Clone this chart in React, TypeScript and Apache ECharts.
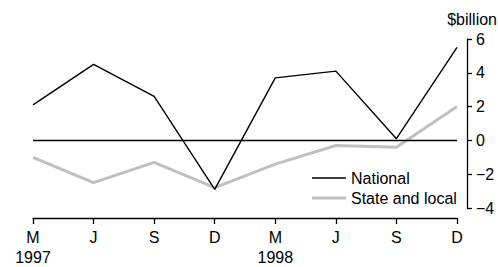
import React, { useEffect, useRef } from "react";
import * as echarts from "echarts";

const categories = ["M\n1997", "J", "S", "D", "M\n1998", "J", "S", "D"];
const national = [2.1, 4.5, 2.6, -2.9, 3.7, 4.1, 0.1, 5.5];
const stateLocal = [-1.0, -2.5, -1.3, -2.8, -1.4, -0.3, -0.4, 2.0];
const yTicks = [-4, -2, 0, 2, 4, 6];
const unitLabel = "$billion";

const FONT = "'Liberation Sans', Arial, sans-serif";

export default function App() {
  const ref = useRef<HTMLDivElement>(null);
  useEffect(() => {
    if (!ref.current) return;
    const chart = echarts.init(ref.current, undefined, { renderer: "svg" });
    const legendBase = {
      orient: "vertical",
      left: 307,
      itemWidth: 34,
      itemGap: 5,
      icon: "rect",
      textStyle: { fontSize: 16, fontFamily: FONT, color: "#000" },
    };
    chart.setOption({
      animation: false,
      textStyle: { fontFamily: FONT, color: "#000" },
      grid: { left: 33, right: 41, top: 39, bottom: 58, containLabel: false },
      graphic: [
        {
          type: "text",
          right: 1,
          top: 11,
          style: { text: unitLabel, fontSize: 16, fontFamily: FONT, fill: "#000" },
        },
      ],
      legend: [
        { ...legendBase, top: 165, itemHeight: 1.4, data: ["National"] },
        { ...legendBase, top: 185, itemHeight: 3, data: ["State and local"] },
      ],
      xAxis: {
        type: "category",
        data: categories,
        boundaryGap: false,
        offset: 10,
        axisLine: { onZero: false, lineStyle: { color: "#000", width: 1.3 } },
        axisTick: { show: true, length: 6, lineStyle: { color: "#000", width: 1.3 } },
        axisLabel: {
          interval: 0,
          color: "#000",
          fontSize: 16,
          lineHeight: 20,
          margin: 9,
          fontFamily: FONT,
        },
        splitLine: { show: false },
      },
      yAxis: {
        type: "value",
        position: "right",
        min: yTicks[0],
        max: yTicks[yTicks.length - 1],
        interval: 2,
        offset: 10,
        axisLine: { show: true, onZero: false, lineStyle: { color: "#000", width: 1.3 } },
        axisTick: { show: true, length: 5, lineStyle: { color: "#000", width: 1.3 } },
        axisLabel: {
          color: "#000",
          fontSize: 16,
          margin: 9,
          fontFamily: FONT,
          formatter: (v: number) => String(v).replace("-", "\u2212"),
        },
        splitLine: { show: false },
      },
      series: [
        {
          name: "State and local",
          type: "line",
          data: stateLocal,
          symbol: "none",
          color: "#c0c0c0",
          lineStyle: { color: "#c0c0c0", width: 3 },
          z: 2,
        },
        {
          name: "National",
          type: "line",
          data: national,
          symbol: "none",
          color: "#000",
          lineStyle: { color: "#000", width: 1.4 },
          z: 3,
          markLine: {
            silent: true,
            symbol: "none",
            label: { show: false },
            lineStyle: { color: "#000", width: 1.4, type: "solid" },
            data: [{ yAxis: 0 }],
          },
        },
      ],
    });
    return () => chart.dispose();
  }, []);
  return (
    <div
      ref={ref}
      style={{ position: "absolute", left: 0, top: 0, width: 498, height: 267 }}
    />
  );
}
